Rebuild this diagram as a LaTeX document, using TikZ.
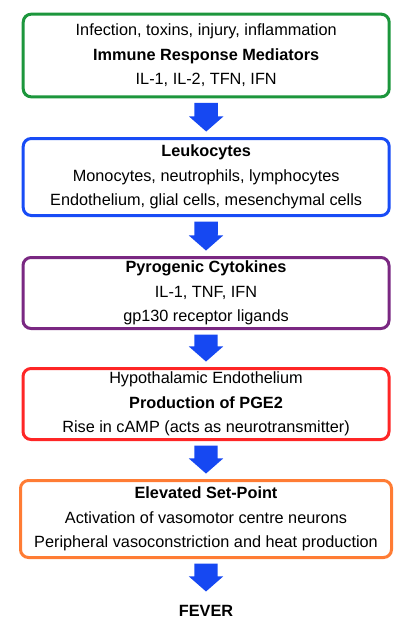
\documentclass[tikz,border=0pt]{standalone}
\usepackage{fontspec}
\setmainfont{Liberation Sans}
\definecolor{stagegreen}{RGB}{28,150,60}
\definecolor{stageblue}{RGB}{24,76,246}
\definecolor{stagepurple}{RGB}{122,40,130}
\definecolor{stagered}{RGB}{254,38,38}
\definecolor{stageorange}{RGB}{255,124,52}
\definecolor{arrowblue}{RGB}{22,72,242}
\begin{document}
\begin{tikzpicture}[x=0.75pt,y=-0.75pt]
        \useasboundingbox (0,0) rectangle (420,621);

        \begin{scope}[every node/.style={rectangle,rounded corners=6pt,line width=2.25pt,minimum width=274.5pt,inner sep=0pt,align=center,font=\fontsize{12.2}{18.3}\selectfont}]
          \node[draw=stagegreen,minimum height=62pt]     (1) at (206.2,55.5) {Infection, toxins, injury, inflammation\\ \textbf{Immune Response Mediators}\\ IL-1, IL-2, TFN, IFN};
          \node[draw=stageblue,minimum height=57.75pt]   (2) at (206.2,177)  {\textbf{Leukocytes}\\ Monocytes, neutrophils, lymphocytes\\ Endothelium, glial cells, mesenchymal cells};
          \node[draw=stagepurple,minimum height=53.25pt] (3) at (206,293)    {\textbf{Pyrogenic Cytokines}\\ IL-1, TNF, IFN\\ gp130 receptor ligands};
          \node[draw=stagered,minimum height=53.25pt]    (4) at (206,404)    {Hypothalamic Endothelium\\ \textbf{Production of PGE2}\\ Rise in cAMP (acts as neurotransmitter)};
          \node[draw=stageorange,minimum height=57.75pt,minimum width=278.25pt] (5) at (206,519) {\textbf{Elevated Set-Point}\\ Activation of vasomotor centre neurons\\ Peripheral vasoconstriction and heat production};
        \end{scope}

        \node[inner sep=0pt,minimum height=20.7pt,font=\fontsize{12.2}{14}\selectfont\bfseries] (6) at (206,611) {FEVER};

        \begin{scope}[every edge/.style={fill=arrowblue,to path={([xshift=-8.8pt,yshift=-3.4pt]\tikztostart.south) -- ([xshift=8.8pt,yshift=-3.4pt]\tikztostart.south) -- ([xshift=8.8pt,yshift=15.4pt]\tikztotarget.north) -- ([xshift=12.9pt,yshift=15.4pt]\tikztotarget.north) -- ([yshift=4.1pt]\tikztotarget.north) -- ([xshift=-12.9pt,yshift=15.4pt]\tikztotarget.north) -- ([xshift=-8.8pt,yshift=15.4pt]\tikztotarget.north) -- cycle}}]
          \path (1) edge (2);
          \path (2) edge (3);
          \path (3) edge (4);
          \path (4) edge (5);
          \path (5) edge (6);
        \end{scope}

      \end{tikzpicture}
\end{document}
